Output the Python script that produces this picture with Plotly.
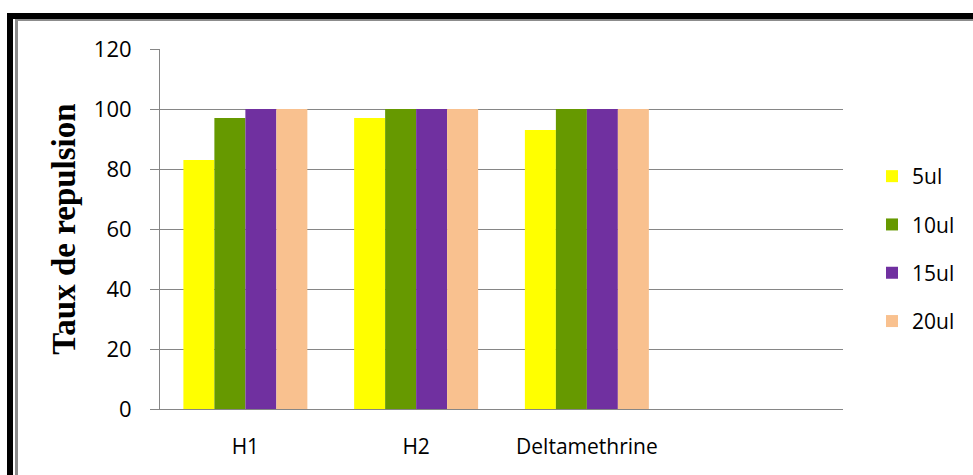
import plotly.graph_objects as go

categories = ["H1", "H2", "Deltamethrine"]
series_names = ["5ul", "10ul", "15ul", "20ul"]
vals_5ul = [83, 97, 93]
vals_10ul = [97, 100, 100]
vals_15ul = [100, 100, 100]
vals_20ul = [100, 100, 100]
y_ticks = [0, 20, 40, 60, 80, 100, 120]

colors = ["#FFFF00", "#669900", "#7030A0", "#F9C18F"]
series_vals = [vals_5ul, vals_10ul, vals_15ul, vals_20ul]

W, H = 973, 475
L, R, T, B = 160, 130, 49, 66
pw, ph = W - L - R, H - T - B

def px(x):
    return (x - L) / pw

def py(y):
    return (H - B - y) / ph

fig = go.Figure()
for i, (name, vals) in enumerate(zip(series_names, series_vals)):
    fig.add_trace(go.Bar(x=categories, y=vals, name=name, marker_color=colors[i],
                         marker_line_width=0, legendgroup=name))

shapes = [
    dict(type="rect", xref="paper", yref="paper", x0=px(7), x1=px(13), y0=py(480), y1=py(13),
         fillcolor="black", line_width=0, layer="above"),
    dict(type="rect", xref="paper", yref="paper", x0=px(7), x1=px(980), y0=py(19), y1=py(13),
         fillcolor="black", line_width=0, layer="above"),
    dict(type="rect", xref="paper", yref="paper", x0=px(15), x1=px(18), y0=py(480), y1=py(19),
         fillcolor="#8c8c8c", line_width=0, layer="above"),
    dict(type="rect", xref="paper", yref="paper", x0=px(15), x1=px(980), y0=py(21), y1=py(19),
         fillcolor="#8c8c8c", line_width=0, layer="above"),
]

fig.update_layout(
    width=W, height=H,
    margin=dict(l=L, r=R, t=T, b=B, autoexpand=False),
    paper_bgcolor="white", plot_bgcolor="white",
    barmode="group", bargap=0.274, bargroupgap=0,
    shapes=shapes,
    showlegend=True,
    legend=dict(x=px(872), y=py(156), xanchor="left", yanchor="top",
                font=dict(family="Open Sans", size=21, color="black"),
                traceorder="grouped", tracegroupgap=18, itemwidth=30,
                bgcolor="rgba(0,0,0,0)"),
    xaxis=dict(type="category", range=[-0.5, 3.5], showgrid=False,
               showline=True, linecolor="#868686", linewidth=1, ticks="",
               tickfont=dict(family="Open Sans", size=21, color="black"),
               ticklabelstandoff=19),
    yaxis=dict(range=[0, 120], tickvals=y_ticks, showgrid=True, gridcolor="#868686",
               gridwidth=1, showline=True, linecolor="#868686", linewidth=1,
               ticks="outside", ticklen=9, tickcolor="#868686", zeroline=False,
               tickfont=dict(family="Open Sans", size=22, color="black"),
               ticklabelstandoff=14,
               title=dict(text="<b>Taux de repulsion</b>",
                          font=dict(family="Liberation Serif", size=33, color="black"),
                          standoff=8)),
)

fig.write_html("out.html", config={"displayModeBar": False},
               post_script="document.body.style.margin='0';document.body.style.overflow='hidden';")
